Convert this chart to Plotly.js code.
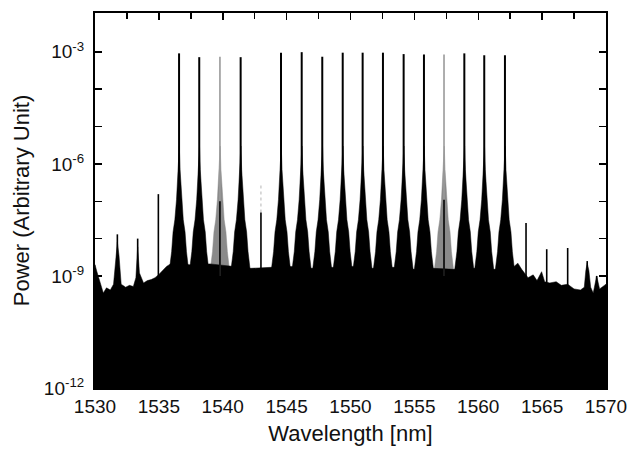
<!DOCTYPE html>
<html>
<head>
<meta charset="utf-8">
<script src="https://cdn.plot.ly/plotly-3.0.1.min.js"></script>
<style>html,body{margin:0;padding:0;background:#fff;}#chart{width:630px;height:450px;}</style>
</head>
<body>
<div id="chart"></div>
<script>
// ---- data ----
// strong comb lines drawn in black
const blackPeakWl  = [1536.58, 1538.16, 1541.40, 1544.56, 1546.18, 1547.79, 1549.39, 1550.95, 1552.54, 1554.16, 1555.75, 1558.91, 1560.47, 1562.09];
const blackPeakPow = [9.1e-4, 7.2e-4, 7.2e-4, 9.5e-4, 9.8e-4, 7.4e-4, 9.5e-4, 9.5e-4, 9.5e-4, 8.7e-4, 8.5e-4, 9.1e-4, 8.1e-4, 8.1e-4];
// strong comb lines drawn in grey
const greyPeakWl  = [1539.78, 1557.32];
const greyPeakPow = [7.4e-4, 8.5e-4];
// faint grey line
const faintPeakWl  = [1542.99];
const faintPeakPow = [3.0e-7];
// small side spikes (black)
const spikeWl  = [1531.75, 1533.34, 1534.96, 1539.78, 1542.99, 1557.32, 1563.74, 1565.36, 1567.00, 1568.53, 1569.27];
const spikePow = [1.3e-8, 1.0e-8, 1.55e-7, 1.0e-7, 5.0e-8, 1.1e-7, 2.6e-8, 5.2e-9, 5.6e-9, 2.5e-9, 1.0e-9];
// skirt of a comb line: distance from line centre [nm] and power reached there
const skirtOffset = [0.02, 0.08, 0.2, 0.33, 0.47, 0.58, 0.74, 0.85];
const skirtPow    = [3e-6, 7e-7, 1.1e-7, 3.2e-8, 1.5e-8, 4.5e-9, 1.5e-9, 8e-10];
// upper edge of the noise floor
const noiseWl = [1530.0, 1530.15, 1530.35, 1530.65, 1530.9, 1531.2, 1531.45, 1531.62, 1531.75, 1531.88, 1532.05, 1532.4, 1532.7, 1533.0, 1533.2, 1533.34, 1533.48, 1533.8, 1534.1, 1534.4, 1534.7, 1535.0, 1535.3, 1535.6, 1536.0,
  1537.4, 1539.0, 1540.6, 1542.2, 1543.8, 1545.4, 1547.0, 1548.6, 1550.2, 1551.7, 1553.4, 1555.0, 1556.5, 1558.1, 1559.7, 1561.3,
  1562.8, 1563.1, 1563.4, 1563.9, 1564.3, 1564.6, 1564.96, 1565.2, 1565.6, 1566.1, 1566.5, 1567.0, 1567.5, 1568.0, 1568.3, 1568.42, 1568.53, 1568.66, 1568.8, 1569.0, 1569.27, 1569.5, 1570.0];
const noisePow = [2.0e-9, 1.3e-9, 8e-10, 3.5e-10, 4.8e-10, 4.2e-10, 6e-10, 3.5e-9, 8e-9, 3.5e-9, 6e-10, 5e-10, 5.6e-10, 5.2e-10, 9e-10, 6e-9, 1.2e-9, 6.5e-10, 7.5e-10, 8e-10, 9e-10, 1.1e-9, 1.4e-9, 1.8e-9, 2.2e-9,
  2.0e-9, 2.1e-9, 1.8e-9, 1.6e-9, 1.7e-9, 1.8e-9, 1.6e-9, 1.7e-9, 1.8e-9, 1.6e-9, 1.7e-9, 1.5e-9, 1.6e-9, 1.5e-9, 1.6e-9, 1.5e-9,
  1.8e-9, 2.2e-9, 1.5e-9, 9e-10, 1.07e-9, 7.5e-10, 1.3e-9, 7e-10, 6.5e-10, 7e-10, 5.6e-10, 6e-10, 4.5e-10, 4.2e-10, 5e-10, 1.4e-9, 2.2e-9, 1.4e-9, 5e-10, 3.5e-10, 1.0e-9, 4.5e-10, 6e-10];
const floorPow = 1e-13;
const xTicks = [1530, 1535, 1540, 1545, 1550, 1555, 1560, 1565, 1570];
const yTickVals = [1e-12, 1e-9, 1e-6, 1e-3];
const yTickText = ['10<sup>-12</sup>', '10<sup>-9</sup>', '10<sup>-6</sup>', '10<sup>-3</sup>'];
const yMinorVals = [1e-11, 1e-10, 1e-8, 1e-7, 1e-5, 1e-4];

// ---- build traces ----
function skirts(centres) {
  const x = [], y = [];
  centres.forEach(c => {
    for (let i = skirtOffset.length - 1; i >= 0; i--) { x.push(c - skirtOffset[i]); y.push(skirtPow[i]); }
    for (let i = 0; i < skirtOffset.length; i++) { x.push(c + skirtOffset[i]); y.push(skirtPow[i]); }
    x.push(null); y.push(null);
  });
  return {x, y};
}
function lines(wl, pow, base) {
  const x = [], y = [];
  wl.forEach((c, i) => { x.push(c, c, null); y.push(base, pow[i], null); });
  return {x, y};
}
const noiseX = [noiseWl[0]].concat(noiseWl, [noiseWl[noiseWl.length - 1]]);
const noiseY = [floorPow].concat(noisePow, [floorPow]);
const gs = skirts(greyPeakWl), bs = skirts(blackPeakWl);
const gl = lines(greyPeakWl, greyPeakPow, 1e-9);
const bl = lines(blackPeakWl, blackPeakPow, 1e-9);
const sl = lines(spikeWl, spikePow, 5e-10);
const fl = lines(faintPeakWl, faintPeakPow, 5e-8);

const common = {mode: 'lines', hoverinfo: 'skip', showlegend: false};
const traces = [
  Object.assign({x: gs.x, y: gs.y, fill: 'toself', fillcolor: '#8a8a8a', line: {width: 0.5, color: '#8a8a8a'}}, common),
  Object.assign({x: noiseX, y: noiseY, fill: 'toself', fillcolor: '#000', line: {width: 0.5, color: '#000'}}, common),
  Object.assign({x: bs.x, y: bs.y, fill: 'toself', fillcolor: '#000', line: {width: 0.5, color: '#000'}}, common),
  Object.assign({x: fl.x, y: fl.y, line: {width: 1, color: '#b5b5b5', dash: 'dot'}}, common),
  Object.assign({x: gl.x, y: gl.y, line: {width: 1.6, color: '#9a9a9a'}}, common),
  Object.assign({x: bl.x, y: bl.y, line: {width: 2, color: '#000'}}, common),
  Object.assign({x: sl.x, y: sl.y, line: {width: 1.6, color: '#000'}}, common)
];

const font = 'Liberation Sans, Arial, sans-serif';
const layout = {
  width: 630, height: 450,
  margin: {l: 95, r: 24, t: 13, b: 62},
  paper_bgcolor: '#fff', plot_bgcolor: '#fff',
  showlegend: false,
  font: {family: font, color: '#111'},
  xaxis: {
    range: [1530, 1570], tickvals: xTicks, ticks: 'inside', ticklen: 7, tickwidth: 1.5, tickcolor: '#000',
    showline: true, linewidth: 2, linecolor: '#000', mirror: 'ticks', showgrid: false, zeroline: false,
    minor: {dtick: 2.5, tick0: 1530, ticks: 'inside', ticklen: 6, tickwidth: 1.5, tickcolor: '#000', showgrid: false},
    tickfont: {size: 19, family: font, color: '#111'},
    title: {text: 'Wavelength [nm]', font: {size: 22, family: font, color: '#111'}, standoff: 10},
    automargin: false
  },
  yaxis: {
    type: 'log', range: [-12, -1.96], tickvals: yTickVals, ticktext: yTickText,
    ticks: 'inside', ticklen: 7, tickwidth: 1.5, tickcolor: '#000', ticklabelstandoff: 5,
    showline: true, linewidth: 2, linecolor: '#000', mirror: 'ticks', showgrid: false, zeroline: false,
    minor: {tickvals: yMinorVals, ticks: 'inside', ticklen: 7, tickwidth: 1.5, tickcolor: '#000', showgrid: false},
    tickfont: {size: 19, family: font, color: '#111'},
    title: {text: 'Power (Arbitrary Unit)', font: {size: 22, family: font, color: '#111'}, standoff: 8},
    automargin: false
  }
};
Plotly.newPlot('chart', traces, layout, {staticPlot: true, displayModeBar: false});
</script>
</body>
</html>
